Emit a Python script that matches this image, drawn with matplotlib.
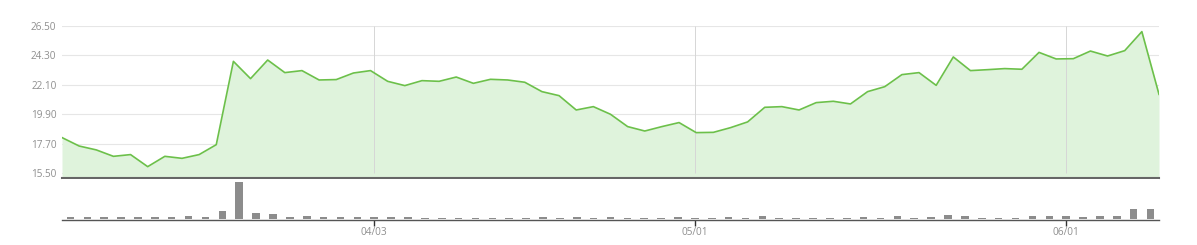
import numpy as np
import matplotlib
matplotlib.use("Agg")
import matplotlib.pyplot as plt

# Closing price per trading day (65 days)
prices = [18.17, 17.54, 17.25, 16.77, 16.90, 16.00, 16.77, 16.62, 16.90, 17.64,
          23.86, 22.57, 23.96, 23.02, 23.17, 22.47, 22.50, 22.99, 23.17, 22.37,
          22.05, 22.42, 22.37, 22.69, 22.22, 22.52, 22.47, 22.30, 21.60, 21.30,
          20.23, 20.48, 19.91, 18.99, 18.66, 18.99, 19.29, 18.54, 18.56, 18.91,
          19.34, 20.43, 20.48, 20.23, 20.78, 20.88, 20.68, 21.60, 21.97, 22.87,
          23.02, 22.07, 24.19, 23.17, 23.24, 23.32, 23.27, 24.53, 24.04, 24.06,
          24.63, 24.26, 24.66, 26.08, 21.40]

# Volume (relative units)
volumes = [5, 5, 5, 5, 5, 7, 7, 8, 7, 25,
           111, 18, 15, 7, 10, 7, 5, 7, 7, 5,
           7, 4, 4, 4, 4, 4, 4, 4, 6, 4,
           6, 4, 6, 4, 4, 4, 6, 4, 4, 6,
           4, 8, 4, 4, 4, 4, 4, 6, 4, 8,
           4, 6, 11, 8, 4, 4, 4, 8, 8, 8,
           6, 8, 8, 30, 32]

y_ticks = [15.50, 17.70, 19.90, 22.10, 24.30, 26.50]
date_idx = [18, 37, 59]
date_labels = ["04/03", "05/01", "06/01"]

plt.rcParams['font.family'] = ['Open Sans', 'DejaVu Sans']

W, H = 1197, 245
fig = plt.figure(figsize=(W / 100, H / 100), dpi=100)

left, right = 62 / W, 1159 / W
ax = fig.add_axes([left, 1 - 178.3 / H, right - left, (178.3 - 26) / H])
axv = fig.add_axes([left, 1 - 219.8 / H, right - left, (219.8 - 179.3) / H])

n = len(prices)
x = np.arange(n)

# price area
ax.fill_between(x, prices, 15.0, color="#dff3dc", zorder=1, linewidth=0)
ax.plot(x, prices, color="#6cc04a", lw=1.2, zorder=3)
ax.set_xlim(0, n - 1)
ax.set_ylim(15.13, 26.5)
ax.set_yticks(y_ticks)
ax.set_yticklabels([f"{v:.2f}" for v in y_ticks])
ax.set_xticks([])
for v in y_ticks:
    ax.axhline(v, color="#e6e6e6", lw=0.8, zorder=0)
# vertical grid at date positions (band centres of volume axis)
for i in date_idx:
    xp = (i + 0.5) * (n - 1) / n
    ax.vlines(xp, 15.5, 26.5, color="#d6d6d6", lw=0.7, zorder=2)
for s in ["top", "right", "left"]:
    ax.spines[s].set_visible(False)
ax.spines["bottom"].set_color("#666666")
ax.spines["bottom"].set_linewidth(1.5)
ax.spines["bottom"].set_zorder(4)
ax.tick_params(axis="y", length=0, pad=4, labelsize=7.2, labelcolor="#8f8f8f")

# volume bars
axv.bar(x, volumes, width=0.45, color="#8c8c8c", zorder=3)
axv.set_xlim(-0.5, n - 0.5)
axv.set_ylim(-2, 120)
axv.set_yticks([])
axv.set_xticks(date_idx)
axv.set_xticklabels(date_labels)
for s in ["top", "right", "left"]:
    axv.spines[s].set_visible(False)
axv.spines["bottom"].set_color("#555555")
axv.spines["bottom"].set_linewidth(1.0)
axv.tick_params(axis="x", length=4, width=1, color="#333333", pad=1.5,
                labelsize=7.2, labelcolor="#8f8f8f")

fig.savefig("out.png", dpi=100)
